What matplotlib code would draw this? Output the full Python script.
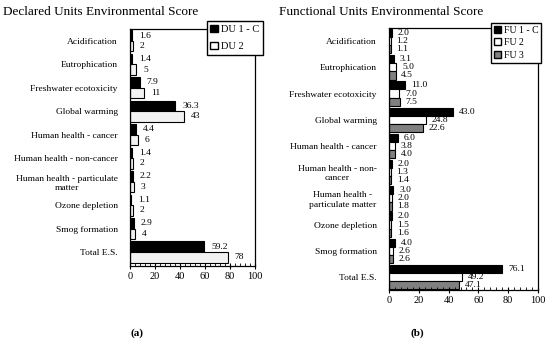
import numpy as np
import matplotlib.pyplot as plt
from matplotlib.patches import Patch
from matplotlib.ticker import MultipleLocator

plt.rcParams['font.family'] = ['Liberation Serif', 'DejaVu Serif']

# Declared units (panel a)
du_cats = ['Acidification', 'Eutrophication', 'Freshwater ecotoxicity', 'Global warming',
           'Human health - cancer', 'Human health - non-cancer',
           'Human health - particulate\nmatter', 'Ozone depletion', 'Smog formation', 'Total E.S.']
du1 = [1.6, 1.4, 7.9, 36.3, 4.4, 1.4, 2.2, 1.1, 2.9, 59.2]
du2 = [2, 5, 11, 43, 6, 2, 3, 2, 4, 78]
du_lbl1 = ['1.6', '1.4', '7.9', '36.3', '4.4', '1.4', '2.2', '1.1', '2.9', '59.2']
du_lbl2 = ['2', '5', '11', '43', '6', '2', '3', '2', '4', '78']

# Functional units (panel b)
fu_cats = ['Acidification', 'Eutrophication', 'Freshwater ecotoxicity', 'Global warming',
           'Human health - cancer', 'Human health - non-\ncancer',
           'Human health -\nparticulate matter', 'Ozone depletion', 'Smog formation', 'Total E.S.']
fu1 = [2.0, 3.1, 11.0, 43.0, 6.0, 2.0, 3.0, 2.0, 4.0, 76.1]
fu2 = [1.2, 5.0, 7.0, 24.8, 3.8, 1.3, 2.0, 1.5, 2.6, 49.2]
fu3 = [1.1, 4.5, 7.5, 22.6, 4.0, 1.4, 1.8, 1.6, 2.6, 47.1]

fig = plt.figure(figsize=(5.5, 3.42), dpi=100)
ax1 = fig.add_axes([0.2364, 0.222, 0.2273, 0.693])
ax2 = fig.add_axes([0.7073, 0.152, 0.2709, 0.766])


def style_axis(ax, cats, ymax):
    ax.set_xlim(0, 100)
    ax.set_ylim(ymax, -0.5)
    ax.set_yticks(range(len(cats)))
    ax.set_yticklabels(cats, fontsize=6.8, multialignment='center')
    ax.tick_params(axis='y', length=0, pad=9)
    ax.xaxis.set_major_locator(MultipleLocator(20))
    ax.xaxis.set_minor_locator(MultipleLocator(4))
    ax.tick_params(axis='x', which='major', direction='inout', length=5, width=0.8, labelsize=7.5, pad=2)
    ax.tick_params(axis='x', which='minor', direction='in', length=2.5, width=0.6)
    for s in ax.spines.values():
        s.set_linewidth(0.9)


# panel a
y = np.arange(len(du_cats))
h = 0.45
ax1.barh(y - h / 2, du1, height=h, color='black', edgecolor='black', linewidth=0.8)
ax1.barh(y + h / 2, du2, height=h, color='#f2f2f2', edgecolor='black', linewidth=0.8)
for i in range(len(du_cats)):
    ax1.annotate(du_lbl1[i], (du1[i], y[i] - h / 2), xytext=(5, 0), textcoords='offset points',
                 va='center', ha='left', fontsize=6.8)
    ax1.annotate(du_lbl2[i], (du2[i], y[i] + h / 2), xytext=(5, 0), textcoords='offset points',
                 va='center', ha='left', fontsize=6.8)
style_axis(ax1, du_cats, 9.6)

# panel b
y = np.arange(len(fu_cats))
h = 0.31
cols = ['black', 'white', '#808080']
for k, vals in enumerate([fu1, fu2, fu3]):
    ax2.barh(y + (k - 1) * h, vals, height=h, color=cols[k], edgecolor='black', linewidth=0.8)
    for i in range(len(fu_cats)):
        ax2.annotate(f'{vals[i]:.1f}', (vals[i], y[i] + (k - 1) * h), xytext=(4, 0),
                     textcoords='offset points', va='center', ha='left', fontsize=6.8)
style_axis(ax2, fu_cats, 9.5)

# legends
leg1 = fig.legend(handles=[Patch(facecolor='black', edgecolor='black'),
                           Patch(facecolor='white', edgecolor='black')],
                  labels=['DU 1 - C', 'DU 2'], loc='upper left', bbox_to_anchor=(0.376, 0.939),
                  borderaxespad=0, fontsize=7.5, fancybox=False, edgecolor='black', framealpha=1,
                  handlelength=0.7, handleheight=0.7, handletextpad=0.3, labelspacing=0.75,
                  borderpad=0.35)
leg1.get_frame().set_linewidth(1.0)
leg2 = fig.legend(handles=[Patch(facecolor='black', edgecolor='black'),
                           Patch(facecolor='white', edgecolor='black'),
                           Patch(facecolor='#808080', edgecolor='black')],
                  labels=['FU 1 - C', 'FU 2', 'FU 3'], loc='upper left', bbox_to_anchor=(0.893, 0.933),
                  borderaxespad=0, fontsize=7, fancybox=False, edgecolor='black', framealpha=1,
                  handlelength=0.7, handleheight=0.7, handletextpad=0.3, labelspacing=0.35,
                  borderpad=0.3)
leg2.get_frame().set_linewidth(1.0)

fig.text(0.006, 0.965, 'Declared Units Environmental Score', fontsize=9.5, va='center', ha='left')
fig.text(0.507, 0.965, 'Functional Units Environmental Score', fontsize=9.5, va='center', ha='left')
fig.text(0.249, 0.026, '(a)', fontsize=8, fontweight='bold', ha='center', va='center')
fig.text(0.758, 0.026, '(b)', fontsize=8, fontweight='bold', ha='center', va='center')

fig.savefig('out.png', dpi=100)
